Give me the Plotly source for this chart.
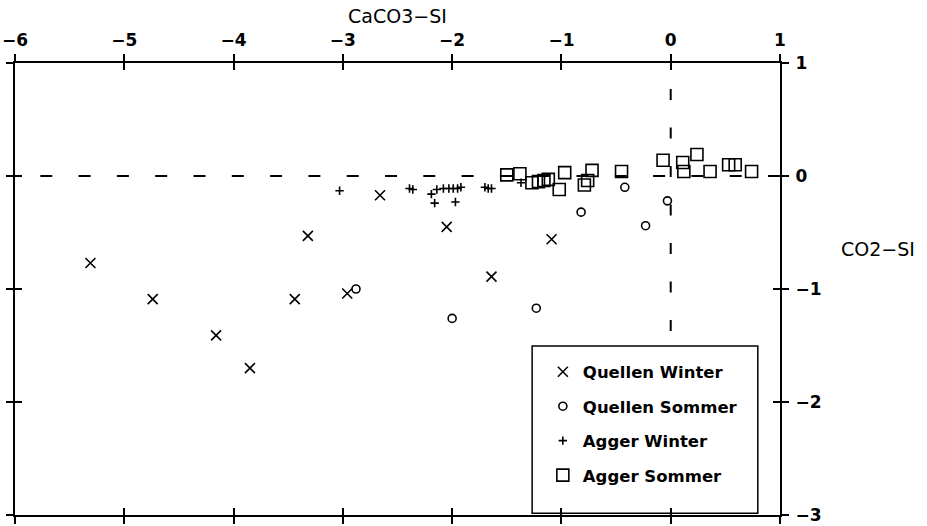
import plotly.graph_objects as go

# Saturation indices: CaCO3-SI (x) against CO2-SI (y)
quellen_winter_x = [-5.31, -4.74, -4.16, -3.85, -3.44, -3.32, -2.96, -2.66, -2.05, -1.64, -1.09]
quellen_winter_y = [-0.77, -1.09, -1.41, -1.70, -1.09, -0.53, -1.04, -0.17, -0.45, -0.89, -0.56]

quellen_sommer_x = [-2.88, -2.00, -1.23, -0.82, -0.42, -0.23, -0.03]
quellen_sommer_y = [-1.00, -1.26, -1.17, -0.32, -0.10, -0.44, -0.22]

agger_winter_x = [-3.03, -2.39, -2.36, -2.19, -2.16, -2.14, -2.08, -2.03, -1.99, -1.95,
                  -1.92, -1.97, -1.70, -1.67, -1.64, -1.37]
agger_winter_y = [-0.13, -0.11, -0.12, -0.16, -0.24, -0.12, -0.11, -0.11, -0.11, -0.11,
                  -0.10, -0.23, -0.10, -0.11, -0.11, -0.06]

agger_sommer_x = [-1.50, -1.38, -1.27, -1.21, -1.16, -1.12, -1.02, -0.97, -0.79, -0.76,
                  -0.72, -0.45, -0.07, 0.11, 0.12, 0.24, 0.36, 0.53, 0.59, 0.74]
agger_sommer_y = [0.01, 0.02, -0.06, -0.05, -0.04, -0.03, -0.12, 0.03, -0.08, -0.04,
                  0.05, 0.04, 0.14, 0.12, 0.04, 0.19, 0.04, 0.10, 0.10, 0.04]

x_ticks = [-6, -5, -4, -3, -2, -1, 0, 1]
y_ticks = [-3, -2, -1, 0, 1]
x_range = [-6, 1]
y_range = [-3, 1]
ref_y_end = -1.372  # lower end of the dashed line at CaCO3-SI = 0

FONT = "DejaVu Sans"
BOLD = dict(family=FONT, size=17, color="black", weight="bold")
TITLE_FONT = dict(family=FONT, size=19, color="black")

series = [
    ("Quellen Winter", quellen_winter_x, quellen_winter_y, "x-thin-open", 10),
    ("Quellen Sommer", quellen_sommer_x, quellen_sommer_y, "circle-open", 8),
    ("Agger Winter", agger_winter_x, agger_winter_y, "cross-thin-open", 6),
    ("Agger Sommer", agger_sommer_x, agger_sommer_y, "square-open", 12),
]

fig = go.Figure()
for name, xs, ys, sym, size in series:
    fig.add_trace(go.Scatter(
        x=xs, y=ys, mode="markers", name=name, legendgroup=name,
        marker=dict(symbol=sym, size=size, color="black",
                    line=dict(color="black", width=1.6)),
    ))

# invisible trace carrying the overlay axes that draw the inner tick halves
fig.add_trace(go.Scatter(
    x=agger_sommer_x, y=agger_sommer_y, xaxis="x2", yaxis="y2",
    mode="markers", marker=dict(opacity=0), showlegend=False, hoverinfo="skip",
))

# dashed reference lines at CO2-SI = 0 and CaCO3-SI = 0
fig.add_shape(type="line", xref="x", yref="y", x0=x_range[1], x1=x_range[0], y0=0, y1=0,
              line=dict(color="black", width=2, dash="12px,26.3px"), layer="below")
fig.add_shape(type="line", xref="x", yref="y", x0=0, x1=0, y0=ref_y_end, y1=y_range[1],
              line=dict(color="black", width=2, dash="11px,27.5px"), layer="below")

# legend frame
fig.add_shape(type="rect", xref="paper", yref="paper",
              x0=0.676, x1=0.971, y0=0.004, y1=0.374,
              line=dict(color="black", width=1.5), fillcolor="white", layer="below")

axis_common = dict(showgrid=False, zeroline=False, showline=True, linecolor="black",
                   linewidth=2, tickcolor="black", tickwidth=2, ticklen=7,
                   mirror="ticks", automargin=False)

fig.update_layout(
    width=927, height=526,
    margin=dict(l=15, r=147, t=63, b=11),
    paper_bgcolor="white", plot_bgcolor="white",
    font=dict(family=FONT, size=16, color="black"),
    xaxis=dict(range=x_range, tickvals=x_ticks, side="top", ticks="outside",
               tickfont=BOLD, ticklabelstandoff=1, **axis_common),
    yaxis=dict(range=y_range, tickvals=y_ticks, side="right", ticks="outside",
               tickfont=BOLD, ticklabelstandoff=3, **axis_common),
    xaxis2=dict(range=x_range, tickvals=x_ticks, overlaying="x", side="top",
                ticks="inside", showticklabels=False, anchor="y2", **axis_common),
    yaxis2=dict(range=y_range, tickvals=y_ticks, overlaying="y", side="right",
                ticks="inside", showticklabels=False, anchor="x2", **axis_common),
    legend=dict(x=0.690, y=0.355, xanchor="left", yanchor="top",
                bgcolor="rgba(0,0,0,0)", borderwidth=0,
                font=dict(family=FONT, size=16.5, color="black", weight="bold"),
                traceorder="grouped", tracegroupgap=10),
    annotations=[
        dict(text="CaCO3−SI", xref="paper", yref="paper", x=0.5, y=1.104,
             xanchor="center", yanchor="middle", showarrow=False, font=TITLE_FONT),
        dict(text="CO2−SI", xref="paper", yref="paper", x=1.128, y=0.588,
             xanchor="center", yanchor="middle", showarrow=False, font=TITLE_FONT),
    ],
)

fig.write_html("out.html")
